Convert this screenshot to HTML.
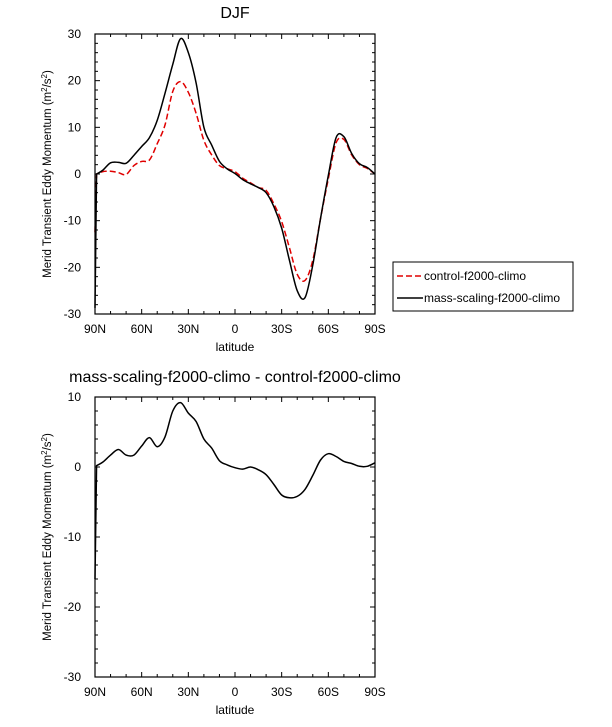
<!DOCTYPE html>
<html><head><meta charset="utf-8"><style>
body{margin:0;background:#fff;}
svg{display:block;font-family:"Liberation Sans",Arial,sans-serif;}
</style></head><body>
<svg id="chart" width="612" height="727" viewBox="0 0 612 727"></svg>
<script>
const lats=[90,89,85,80,75,70,65,60,55,50,45,40,35,30,25,20,15,10,5,0,-5,-10,-15,-20,-25,-30,-35,-40,-45,-50,-55,-60,-65,-70,-75,-80,-85,-90];
const massVals=[-28.7,0,0.8,2.4,2.5,2.3,4,5.9,7.8,11.5,17.3,23.5,29,26,19.5,10,6.2,2.7,1.1,0.1,-1.2,-2.1,-2.9,-4,-7,-11.6,-18.5,-25,-26.5,-19.5,-9.5,-0.3,7.8,8,4.4,2.2,1.4,0];
const ctrlVals=[-12.5,0,0.5,0.6,0.3,-0.1,1.8,2.7,3,6.5,10.5,17.7,19.8,17.5,13,7.2,4.1,1.8,1.1,0.5,-0.9,-1.9,-2.9,-3.5,-6.4,-10.2,-15.8,-21.5,-22.8,-18.5,-9.5,-1,6.7,7.4,4.1,2,1.2,0];
const diffVals=[-16,0.2,0.7,1.7,2.5,1.7,1.7,3,4.2,2.9,4.3,8,9.2,7.7,6.5,4,2.7,0.9,0.3,-0.1,-0.3,0,-0.4,-1.1,-2.5,-4,-4.4,-4.2,-3.2,-1.2,1,1.9,1.5,0.8,0.5,0.1,0.1,0.6];
const xTickVals=[90,60,30,0,-30,-60,-90];
const xTickLabels=["90N","60N","30N","0","30S","60S","90S"];
const topYTicks=[30,20,10,0,-10,-20,-30];
const botYTicks=[10,0,-10,-20,-30];

const svg=document.getElementById('chart');
const NS='http://www.w3.org/2000/svg';
function mk(tag,attrs,parent){const e=document.createElementNS(NS,tag);for(const k in attrs)e.setAttribute(k,attrs[k]);(parent||svg).appendChild(e);return e;}
function txt(x,y,s,size,anchor,parent){const t=mk('text',{x:x,y:y,'font-size':size,'text-anchor':anchor||'middle',fill:'#000'},parent);t.textContent=s;return t;}
function smoothPath(all){
 let d='M'+all[0][0].toFixed(2)+','+all[0][1].toFixed(2)+' L'+all[1][0].toFixed(2)+','+all[1][1].toFixed(2);
 const pts=all.slice(1);
 for(let i=0;i<pts.length-1;i++){const p0=pts[Math.max(0,i-1)],p1=pts[i],p2=pts[i+1],p3=pts[Math.min(pts.length-1,i+2)];
  const c1=[p1[0]+(p2[0]-p0[0])/6,p1[1]+(p2[1]-p0[1])/6],c2=[p2[0]-(p3[0]-p1[0])/6,p2[1]-(p3[1]-p1[1])/6];
  d+=' C'+c1[0].toFixed(2)+','+c1[1].toFixed(2)+' '+c2[0].toFixed(2)+','+c2[1].toFixed(2)+' '+p2[0].toFixed(2)+','+p2[1].toFixed(2);}
 return d;}

function panel(name,top,bottom,ymin,ymax,yTicks,series){
 const L=95,R=375;
 const g=mk('g',{});
 
 
 const xs=v=>L+(90-v)/180*(R-L);
 const ys=v=>bottom-(v-ymin)/(ymax-ymin)*(bottom-top);
 series.forEach(s=>{
  const p=mk('path',{d:smoothPath(lats.map((la,i)=>[xs(la),ys(s.vals[i])])),fill:'none',stroke:s.color,'stroke-width':1.5,'stroke-dasharray':s.dash||'none'},g);
  
  
 });
 mk('rect',{x:L,y:top,width:R-L,height:bottom-top,fill:'none',stroke:'#000','stroke-width':1.2},g);
 for(let v=90;v>=-90;v-=10){const x=xs(v);const maj=v%30===0;const l=maj?5:3;
  mk('line',{x1:x,y1:bottom,x2:x,y2:bottom-l,stroke:'#000'},g);mk('line',{x1:x,y1:top,x2:x,y2:top+l,stroke:'#000'},g);}
 xTickVals.forEach((v,i)=>{const t=txt(xs(v),bottom+19,xTickLabels[i],12,'middle',g);});
 for(let v=ymin;v<=ymax;v+=2){const y=ys(v);const maj=v%10===0;const l=maj?5:3;
  mk('line',{x1:L,y1:y,x2:L+l,y2:y,stroke:'#000'},g);mk('line',{x1:R,y1:y,x2:R-l,y2:y,stroke:'#000'},g);}
 yTicks.forEach(v=>{const t=txt(81,ys(v)+4,String(v),12,'end',g);});
 const xt=txt(235,bottom+37,'latitude',12,'middle',g);
 
 const cy=(top+bottom)/2;
 const yt=mk('text',{x:51,y:cy,'font-size':11.5,'text-anchor':'middle',transform:'rotate(-90 51 '+cy+')'},g);
 
 yt.innerHTML='Merid Transient Eddy Momentum (m<tspan dy="-4" font-size="8">2</tspan><tspan dy="4">/s</tspan><tspan dy="-4" font-size="8">2</tspan><tspan dy="4">)</tspan>';
}

const t1=txt(235,18,'DJF',16,'middle');

panel('top-panel',34,314,-30,30,topYTicks,[
 {name:'control-line',vals:ctrlVals,color:'#e00000',dash:'6,3'},
 {name:'mass-scaling-line',vals:massVals,color:'#000'}]);
const t2=txt(235,382,'mass-scaling-f2000-climo - control-f2000-climo',16,'middle');

panel('bottom-panel',397,677,-30,10,botYTicks,[{name:'difference-line',vals:diffVals,color:'#000'}]);

const lg=mk('g',{});


mk('rect',{x:393,y:262,width:180,height:49,fill:'#fff',stroke:'#000','stroke-width':1},lg);
mk('line',{x1:397,y1:276,x2:423,y2:276,stroke:'#e00000','stroke-width':1.5,'stroke-dasharray':'6,3'},lg);
const le1=txt(424,280,'control-f2000-climo',12,'start',lg);

mk('line',{x1:397,y1:298,x2:423,y2:298,stroke:'#000','stroke-width':1.5},lg);
const le2=txt(424,302,'mass-scaling-f2000-climo',12,'start',lg);

</script>
</body></html>
